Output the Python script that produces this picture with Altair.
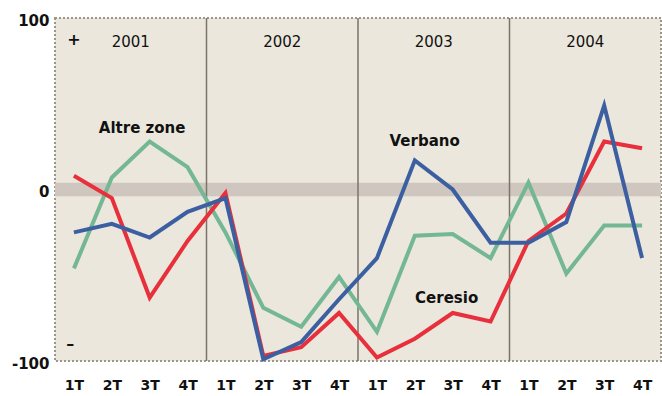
import altair as alt
import pandas as pd

# Quarterly index values, 2001-2004 (balance of positive/negative answers)
years = ["2001", "2002", "2003", "2004"]
quarters = ["1T", "2T", "3T", "4T"]
ceresio = [8, -5, -63, -30, -2, -97, -92, -72, -98, -87, -72, -77, -30, -14, 28, 24]
verbano = [-25, -20, -28, -13, -5, -99, -89, -64, -40, 17, 0, -31, -31, -19, 49, -40]
altre_zone = [-46, 7, 28, 13, -25, -69, -80, -51, -83, -27, -26, -40, 4, -49, -21, -21]

series_names = ["Altre zone", "Ceresio", "Verbano"]
series_colors = ["#74b794", "#e8303c", "#3b5fa0"]

rows = []
for name, vals in zip(series_names, [altre_zone, ceresio, verbano]):
    for i, v in enumerate(vals):
        rows.append({"serie": name, "idx": i, "valore": v})
df = pd.DataFrame(rows)

n = len(ceresio)
x_scale = alt.Scale(domain=[-0.5, n - 0.5], nice=False, zero=False)
y_scale = alt.Scale(domain=[-100, 100], nice=False)
FONT = "DejaVu Sans"

x_axis = alt.Axis(
    values=list(range(n)),
    labelExpr="(datum.value % 4 + 1) + 'T'",
    title=None, ticks=False, domain=False, grid=False,
    labelFont=FONT, labelFontSize=14, labelFontWeight="bold",
    labelColor="#111", labelPadding=17, labelFlush=False,
)
y_axis = alt.Axis(
    values=[-100, 0, 100], title=None, ticks=False, domain=False, grid=False,
    labelExpr="datum.value < 0 ? '-' + abs(datum.value) : '' + datum.value",
    labelFont=FONT, labelFontSize=15, labelFontWeight="bold",
    labelColor="#111", labelPadding=6, labelOffset=2,
)

# neutral band around zero
band = alt.Chart(pd.DataFrame({"a": [-0.5], "b": [n - 0.5], "lo": [-4], "hi": [4]})).mark_rect(
    color="#cfc7bf"
).encode(
    x=alt.X("a:Q", scale=x_scale, axis=x_axis),
    x2="b:Q",
    y=alt.Y("lo:Q", scale=y_scale, axis=y_axis),
    y2="hi:Q",
)

# separators between years
dividers = alt.Chart(pd.DataFrame({"pos": [3.5, 7.5, 11.5]})).mark_rule(
    color="#7a746d", strokeWidth=1.5
).encode(x=alt.X("pos:Q", scale=x_scale))

lines = alt.Chart(df).mark_line(strokeWidth=4).encode(
    x=alt.X("idx:Q", scale=x_scale),
    y=alt.Y("valore:Q", scale=y_scale),
    color=alt.Color("serie:N", scale=alt.Scale(domain=series_names, range=series_colors), legend=None),
    order="idx:Q",
)

year_df = pd.DataFrame({"anno": years, "pos": [1.5, 5.5, 9.5, 13.5], "y": [86] * 4})
year_text = alt.Chart(year_df).mark_text(font=FONT, fontSize=15, color="#111").encode(
    x=alt.X("pos:Q", scale=x_scale), y=alt.Y("y:Q", scale=y_scale), text="anno:N"
)

sign_df = pd.DataFrame({"s": ["+", "\u2013"], "pos": [0, -0.1], "y": [87, -90]})
sign_text = alt.Chart(sign_df).mark_text(font=FONT, fontSize=16, fontWeight="bold", color="#111").encode(
    x=alt.X("pos:Q", scale=x_scale), y=alt.Y("y:Q", scale=y_scale), text="s:N"
)

name_df = pd.DataFrame({"nome": ["Altre zone", "Verbano", "Ceresio"],
                        "pos": [1.8, 9.26, 9.84], "y": [36, 28, -63]})
name_text = alt.Chart(name_df).mark_text(font=FONT, fontSize=15, fontWeight="bold", color="#111").encode(
    x=alt.X("pos:Q", scale=x_scale), y=alt.Y("y:Q", scale=y_scale), text="nome:N"
)

chart = alt.layer(band, dividers, lines, year_text, sign_text, name_text).properties(
    width=606, height=343,
    padding={"left": 55, "top": 18, "right": 1, "bottom": 35},
    autosize=alt.AutoSizeParams(type="none"),
    background="white",
).configure_view(fill="#ebe7dc", stroke="#9b958c", strokeDash=[2, 2], strokeWidth=2)

chart.save("out.html", embed_options={"renderer": "svg", "actions": False})
